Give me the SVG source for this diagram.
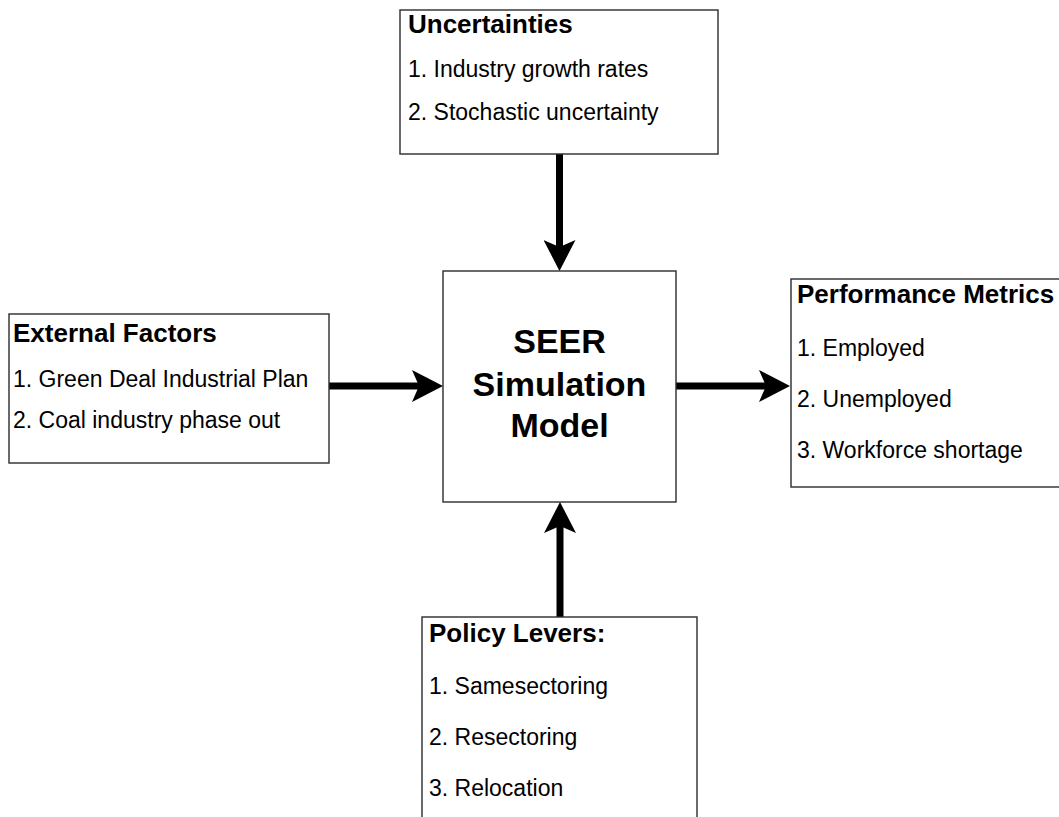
<svg xmlns="http://www.w3.org/2000/svg" width="1059" height="817" viewBox="0 0 1059 817">
  <style>
    .box { fill: #ffffff; stroke: #2b2b2b; stroke-width: 1.4; }
    .title { font-family: "Liberation Sans", Arial, Helvetica, sans-serif; font-weight: bold; font-size: 26px; fill: #000; }
    .item { font-family: "Liberation Sans", Arial, Helvetica, sans-serif; font-size: 23px; fill: #000; }
    .core { font-family: "Liberation Sans", Arial, Helvetica, sans-serif; font-weight: bold; font-size: 34px; fill: #000; text-anchor: middle; }
    .flow { fill: none; stroke: #000; stroke-width: 7; marker-end: url(#head); }
  </style>
  <defs>
    <marker id="head" markerUnits="userSpaceOnUse" viewBox="0 0 31 32" markerWidth="31" markerHeight="32" refX="7" refY="16" orient="auto">
      <path d="M0,0 L31,16 L0,32 L7,16 Z" fill="#000"/>
    </marker>
  </defs>
  <rect width="1059" height="817" fill="#ffffff"/>

  <!-- connectors -->
  <g id="connectors">
    <path class="flow" d="M559.5,154 L559.5,247"/>
    <path class="flow" d="M329,386 L419,386"/>
    <path class="flow" d="M676,386 L766,386"/>
    <path class="flow" d="M560,617 L560,526"/>
  </g>

  <g id="uncertainties">
    <rect class="box" x="400" y="10" width="318" height="144"/>
    <text class="title" x="408" y="33">Uncertainties</text>
    <text class="item" x="408" y="77">1. Industry growth rates</text>
    <text class="item" x="408" y="120">2. Stochastic uncertainty</text>
  </g>

  <g id="external-factors">
    <rect class="box" x="9" y="314" width="320" height="149"/>
    <text class="title" x="13" y="342">External Factors</text>
    <text class="item" x="13" y="387">1. Green Deal Industrial Plan</text>
    <text class="item" x="13" y="428">2. Coal industry phase out</text>
  </g>

  <g id="seer-model">
    <rect class="box" x="443" y="271" width="233" height="231"/>
    <text class="core" x="559.5" y="353">SEER</text>
    <text class="core" x="559.5" y="396">Simulation</text>
    <text class="core" x="559.5" y="437">Model</text>
  </g>

  <g id="performance-metrics">
    <rect class="box" x="791" y="279" width="290" height="208"/>
    <text class="title" x="797" y="303">Performance Metrics</text>
    <text class="item" x="797" y="356">1. Employed</text>
    <text class="item" x="797" y="407">2. Unemployed</text>
    <text class="item" x="797" y="458">3. Workforce shortage</text>
  </g>

  <g id="policy-levers">
    <rect class="box" x="422" y="617" width="275" height="220"/>
    <text class="title" x="429" y="642">Policy Levers:</text>
    <text class="item" x="429" y="694">1. Samesectoring</text>
    <text class="item" x="429" y="745">2. Resectoring</text>
    <text class="item" x="429" y="796">3. Relocation</text>
  </g>
</svg>
